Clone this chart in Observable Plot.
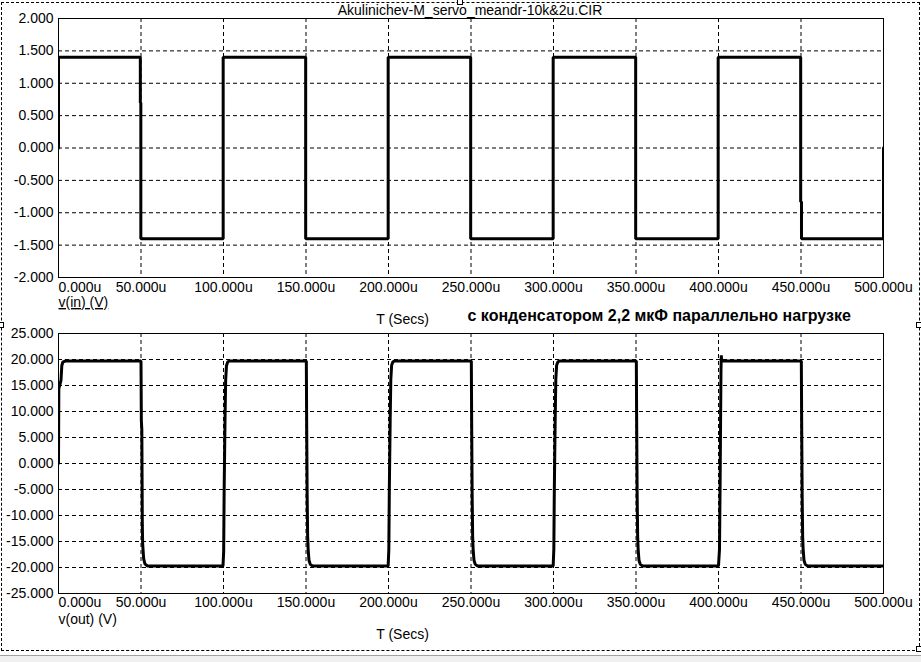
<!DOCTYPE html>
<html>
<head>
<meta charset="utf-8">
<script src="https://cdn.jsdelivr.net/npm/d3@7"></script>
<script src="https://cdn.jsdelivr.net/npm/@observablehq/plot@0.6"></script>
<style>
  html, body { margin: 0; padding: 0; background: #fff; }
  #wrap { position: relative; width: 921px; height: 662px; background: #fff; overflow: hidden; font-family: "Liberation Sans", Arial, sans-serif; }
  #p1, #p2 { position: absolute; left: 0; }
  #p1 { top: 0; }
  #p2 { top: 325px; }
  #border { position: absolute; left: 1px; top: 2px; width: 917px; height: 647px; border: 1px dashed #000; pointer-events: none; }
  .handle { position: absolute; width: 4px; height: 4px; border: 1px solid #000; background: #fff; }
  #status { position: absolute; left: 0; top: 655px; width: 921px; height: 7px; background: #f0f0f0; border-top: 1px solid #a0a0a0; }
</style>
</head>
<body>
<div id="wrap">
  <div id="p1"></div>
  <div id="p2"></div>
  <div id="border"></div>
  <div class="handle" style="left:457px;top:-1px"></div>
  <div class="handle" style="left:-2px;top:322px"></div>
  <div class="handle" style="left:916px;top:322px"></div>
  <div class="handle" style="left:916px;top:646px"></div>
  <div id="status"></div>
</div>
<script>
// ---- data ----
const chartTitle = "Akulinichev-M_servo_meandr-10k&2u.CIR";
const annotation = "с конденсатором 2,2 мкФ параллельно нагрузке";
const xLabel = "T (Secs)";
const yLabel1 = "v(in) (V)";
const yLabel2 = "v(out) (V)";

const xTicks = [0, 50, 100, 150, 200, 250, 300, 350, 400, 450, 500]; // microseconds
const yTicks1 = [2, 1.5, 1, 0.5, 0, -0.5, -1, -1.5, -2];
const yTicks2 = [25, 20, 15, 10, 5, 0, -5, -10, -15, -20, -25];

// input square wave v(in), time in us
const inTime = [0, 0, 49.6, 49.6, 49.9, 49.9, 99.8, 99.8, 149.8, 149.8, 199.8, 199.8, 249.8, 249.8,
  299.8, 299.8, 349.8, 349.8, 399.8, 399.8, 449.8, 449.8, 450.3, 450.3, 500, 500];
const inVolt = [0, 1.4, 1.4, 0.7, 0.7, -1.4, -1.4, 1.4, 1.4, -1.4, -1.4, 1.4, 1.4, -1.4,
  -1.4, 1.4, 1.4, -1.4, -1.4, 1.4, 1.4, -0.83, -0.83, -1.4, -1.4, 0];

// output v(out), time in us
const outTime = [
  0, 0.2, 1.5, 2.0, 2.6, 4.0,
  50.0, 50.2, 50.5, 50.8, 51.0, 51.6, 52.4, 53.8,
  99.7, 100.1, 100.4, 100.9, 101.3, 101.8, 102.5, 103.5,
  150.2, 150.4, 150.7, 151.0, 151.3, 151.8, 152.6, 154.0,
  199.8, 200.2, 200.5, 201.0, 201.4, 201.9, 202.6, 203.6,
  250.2, 250.4, 250.7, 251.0, 251.3, 251.8, 252.6, 254.0,
  299.8, 300.2, 300.5, 301.0, 301.4, 301.9, 302.6, 303.6,
  350.2, 350.4, 350.7, 351.0, 351.3, 351.8, 352.6, 354.0,
  400.0, 400.6, 401.0, 401.3, 401.5, 401.7, 401.9, 402.6, 403.6,
  450.2, 450.4, 450.7, 451.0, 451.3, 451.8, 452.6, 454.0,
  500];
const outVolt = [
  0, 14.4, 16.0, 18.8, 19.5, 19.7,
  19.7, 8.3, 6.5, -12.0, -15.4, -18.3, -19.3, -19.7,
  -19.7, -17.0, -5.0, 8.0, 16.0, 18.8, 19.5, 19.7,
  19.7, 8.0, -6.0, -14.0, -16.5, -18.6, -19.4, -19.7,
  -19.7, -16.5, -5.0, 8.0, 16.2, 18.9, 19.5, 19.7,
  19.7, 8.0, -6.0, -14.0, -16.5, -18.6, -19.4, -19.7,
  -19.7, -16.5, -5.0, 8.0, 16.2, 18.9, 19.5, 19.7,
  19.7, 8.0, -6.0, -14.0, -16.5, -18.6, -19.4, -19.7,
  -19.7, -16.5, -3.0, 10.0, 18.0, 20.8, 19.7, 19.7, 19.7,
  19.7, 8.0, -6.0, -14.0, -16.5, -18.6, -19.4, -19.7,
  -19.7];

// ---- build ----
const inData = inTime.map((t, i) => ({t, v: inVolt[i]}));
const outData = outTime.map((t, i) => ({t, v: outVolt[i]}));

const FONT = "Liberation Sans, Arial, sans-serif";
const TXT = "#000";
const fmtY = d => d.toFixed(3);
const fmtX = d => d.toFixed(3) + "u";

function panel({data, yDomain, yTicks, height, marginTop, marginBottom, xLabDy, yLab, yLabDy, tLabDy, extra}) {
  const gridStyle = {stroke: "#000", strokeOpacity: 1, strokeWidth: 1, strokeDasharray: "4,3"};
  return Plot.plot({
    width: 921,
    height,
    marginLeft: 58,
    marginRight: 38,
    marginTop,
    marginBottom,
    style: {fontFamily: FONT, fontSize: "14px", color: TXT, background: "transparent", overflow: "visible"},
    x: {domain: [0, 500], axis: null},
    y: {domain: yDomain, label: null},
    marks: [
      Plot.gridX(xTicks.slice(1, -1), gridStyle),
      Plot.gridY(yTicks.slice(1, -1), gridStyle),
      Plot.line(data, {x: "t", y: "v", stroke: "#000", strokeWidth: 3, strokeLinejoin: "miter", clip: true}),
      Plot.frame({stroke: "#000", strokeWidth: 1}),
      Plot.axisY(yTicks, {tickSize: 0, tickPadding: 5, tickFormat: fmtY, fontSize: 14, fill: TXT, label: null}),
      Plot.text(xTicks.slice(0, 1), {x: d => d, frameAnchor: "bottom", text: fmtX, textAnchor: "start", lineAnchor: "middle", dy: xLabDy, fontSize: 14, fill: TXT}),
      Plot.text(xTicks.slice(1), {x: d => d, frameAnchor: "bottom", text: fmtX, textAnchor: "middle", lineAnchor: "middle", dy: xLabDy, fontSize: 14, fill: TXT}),
      Plot.text([yLab], {frameAnchor: "bottom-left", textAnchor: "start", lineAnchor: "middle", dy: yLabDy, fontSize: 14, fill: TXT}),
      Plot.text([xLabel], {frameAnchor: "bottom", textAnchor: "middle", lineAnchor: "middle", dx: -68.5, dy: tLabDy, fontSize: 14, fill: TXT}),
      ...extra
    ]
  });
}

const plot1 = panel({
  data: inData, yDomain: [-2, 2], yTicks: yTicks1,
  height: 325, marginTop: 18, marginBottom: 48,
  xLabDy: 10, yLab: yLabel1, yLabDy: 25, tLabDy: 42,
  extra: [
    Plot.text([chartTitle], {frameAnchor: "top", textAnchor: "middle", lineAnchor: "middle", dx: -1, dy: -8, fontSize: 14, fill: TXT}),
    Plot.text([annotation], {frameAnchor: "bottom-left", textAnchor: "start", lineAnchor: "middle", dx: 409, dy: 38, fontSize: 16, fontWeight: "bold", fill: "#000"})
  ]
});
const plot2 = panel({
  data: outData, yDomain: [-25, 25], yTicks: yTicks2,
  height: 337, marginTop: 8, marginBottom: 69,
  xLabDy: 9, yLab: yLabel2, yLabDy: 26, tLabDy: 41,
  extra: []
});

document.getElementById("p1").appendChild(plot1);
document.getElementById("p2").appendChild(plot2);

// underline the v(in) label
d3.select(plot1).selectAll("text").filter(function() { return this.textContent === yLabel1; })
  .attr("text-decoration", "underline");
</script>
</body>
</html>
